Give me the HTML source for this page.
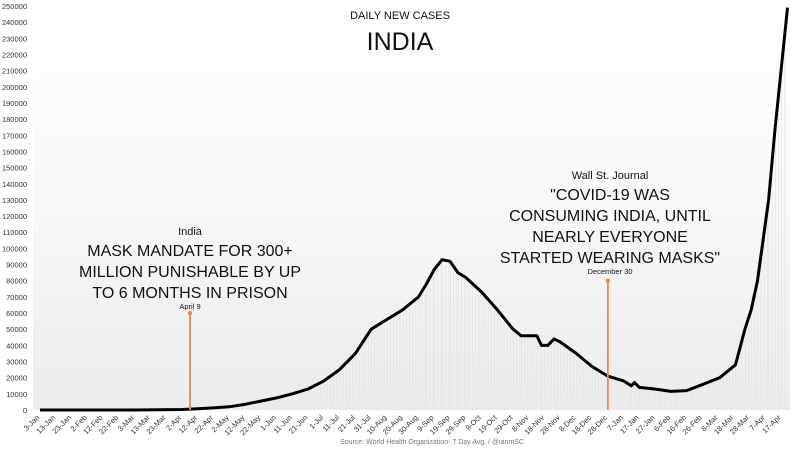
<!DOCTYPE html>
<html><head><meta charset="utf-8"><style>
html,body{margin:0;padding:0;background:#fff;}
svg{display:block;font-family:"Liberation Sans",sans-serif;}
</style></head><body>
<svg id="c" width="800" height="451" viewBox="0 0 800 451">
<defs><linearGradient id="bg" x1="0" y1="0" x2="0" y2="1"><stop offset="0" stop-color="#ffffff"/><stop offset="0.5" stop-color="#f8f8f8"/><stop offset="1" stop-color="#ececec"/></linearGradient></defs>
<rect x="33" y="4" width="757" height="406" fill="url(#bg)"/>
<g id="yaxis"></g>
<g id="xaxis"></g>
<g id="series"></g>
<text x="400" y="19" text-anchor="middle" font-size="11" fill="#111">DAILY NEW CASES</text>
<text x="400" y="50" text-anchor="middle" font-size="25" fill="#111">INDIA</text>
<g>
<text x="190" y="235" text-anchor="middle" font-size="11" fill="#111">India</text>
<text x="190" y="256" text-anchor="middle" font-size="16" fill="#111">MASK MANDATE FOR 300+</text>
<text x="190" y="277" text-anchor="middle" font-size="16" fill="#111">MILLION PUNISHABLE BY UP</text>
<text x="190" y="298" text-anchor="middle" font-size="16" fill="#111">TO 6 MONTHS IN PRISON</text>
<text x="190" y="309" text-anchor="middle" font-size="7.5" fill="#111">April 9</text>
</g>
<g>
<text x="610" y="179" text-anchor="middle" font-size="11" fill="#111">Wall St. Journal</text>
<text x="610" y="200" text-anchor="middle" font-size="16" fill="#111">"COVID-19 WAS</text>
<text x="610" y="221" text-anchor="middle" font-size="16" fill="#111">CONSUMING INDIA, UNTIL</text>
<text x="610" y="242" text-anchor="middle" font-size="16" fill="#111">NEARLY EVERYONE</text>
<text x="610" y="263" text-anchor="middle" font-size="16" fill="#111">STARTED WEARING MASKS"</text>
<text x="610" y="274" text-anchor="middle" font-size="7.5" fill="#111">December 30</text>
</g>
<g id="ann"></g>
<text x="432" y="444" text-anchor="middle" font-size="7" fill="#777">Source: World Health Organization- 7 Day Avg. / @ianmSC</text>
</svg>
<script>
// days since 3-Jan-2020, values in thousands
const days = [0,60,90,100,110,120,130,140,150,160,170,180,190,200,210,220,230,240,245,250,255,260,265,270,280,290,300,305,315,318,322,326,330,340,350,360,370,375,377,380,390,400,410,418,431,441,447,451,455,462,466,474];
const cases = [0,0,0.3,0.8,1.3,2,3.5,5.5,7.5,10,13,18,25,35,50,56,62,70,78,87,93,92,85,82,73,62,50,46,46,40,40,44,42,35,27,21,18,15,17,14,13,11.5,12,15,20,28,50,62,80,130,173,249];
const yTicks = [0,10000,20000,30000,40000,50000,60000,70000,80000,90000,100000,110000,120000,130000,140000,150000,160000,170000,180000,190000,200000,210000,220000,230000,240000,250000];
const xLabels = ["3-Jan","13-Jan","23-Jan","2-Feb","12-Feb","22-Feb","3-Mar","13-Mar","23-Mar","2-Apr","12-Apr","22-Apr","2-May","12-May","22-May","1-Jun","11-Jun","21-Jun","1-Jul","11-Jul","21-Jul","31-Jul","10-Aug","20-Aug","30-Aug","9-Sep","19-Sep","29-Sep","9-Oct","19-Oct","29-Oct","8-Nov","18-Nov","28-Nov","8-Dec","18-Dec","28-Dec","7-Jan","17-Jan","27-Jan","6-Feb","16-Feb","26-Feb","8-Mar","18-Mar","28-Mar","7-Apr","17-Apr"];
const markerDays = [97,362];
const markerVals = [60,80];
const NS="http://www.w3.org/2000/svg";
const X=d=>40+d*1.577;
const Y=v=>410-v*1000/250000*404;
function mk(t,a,p){const e=document.createElementNS(NS,t);for(const k in a)e.setAttribute(k,a[k]);p.appendChild(e);return e;}
const ya=document.getElementById('yaxis');
yTicks.forEach(v=>{const t=mk('text',{x:27,y:Y(v/1000)+3,'text-anchor':'end','font-size':7.5,fill:'#333'},ya);t.textContent=v;

});
const xa=document.getElementById('xaxis');
xLabels.forEach((l,i)=>{const x=X(i*10);const t=mk('text',{x:x,y:418,'text-anchor':'end','font-size':7.5,fill:'#333',transform:`rotate(-45 ${x} 418)`},xa);t.textContent=l;

});
const s=document.getElementById('series');
for(let i=0;i<days.length-1;i++){for(let d=days[i];d<days[i+1];d+=2){const v=cases[i]+(cases[i+1]-cases[i])*(d-days[i])/(days[i+1]-days[i]);
const b=mk('rect',{x:X(d),y:Y(v),width:0.8,height:410-Y(v),fill:'#e4e4e4'},s);

}}
const p=mk('path',{d:days.map((d,i)=>(i?'L':'M')+X(d).toFixed(1)+' '+Y(cases[i]).toFixed(1)).join(' '),fill:'none',stroke:'#000','stroke-width':3,'stroke-linejoin':'round'},s);


const an=document.getElementById('ann');
markerDays.forEach((d,i)=>{const l=mk('line',{x1:X(d)-3,x2:X(d)-3,y1:Y(markerVals[i]),y2:410,stroke:'#e8894a','stroke-width':1.8},an);


const c=mk('circle',{cx:X(d)-3,cy:Y(markerVals[i]),r:2.2,fill:'#e8894a'},an);

});
</script>
</body></html>
